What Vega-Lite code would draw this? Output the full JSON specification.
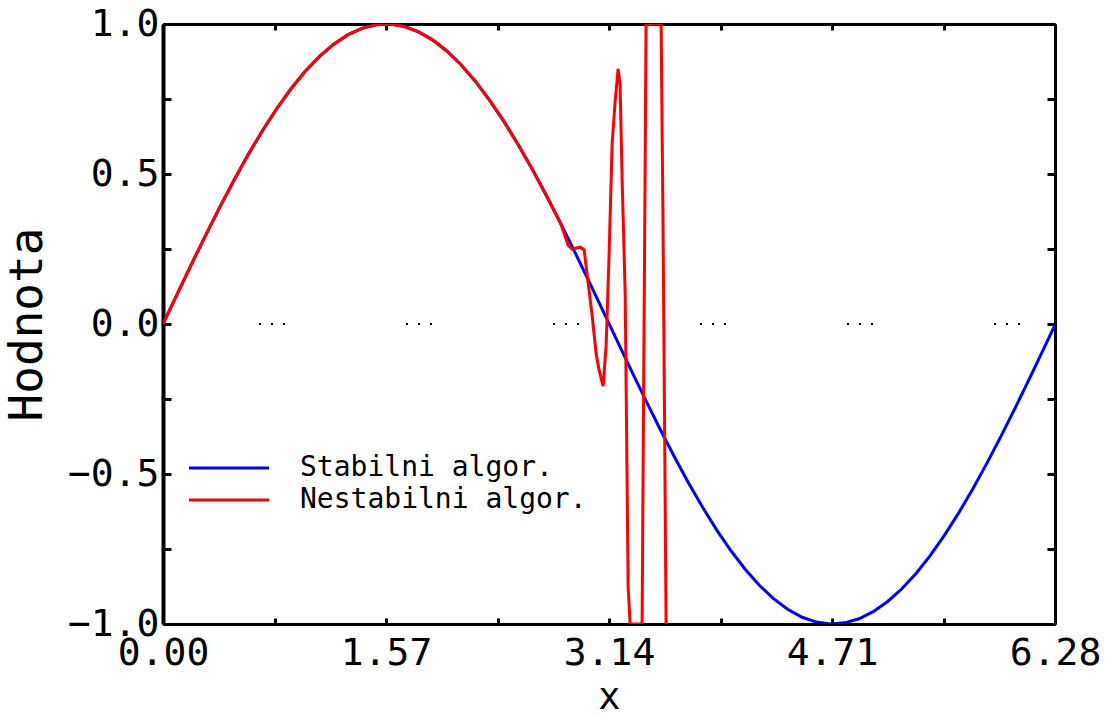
{
  "$schema": "https://vega.github.io/schema/vega-lite/v6.json",
  "width": 892,
  "height": 600,
  "autosize": {"type": "none"},
  "padding": {"left": 163, "top": 24, "right": 52, "bottom": 93},
  "background": "white",
  "config": {"view": {"stroke": null}, "font": "DejaVu Sans Mono"},
  "datasets": {
    "curves": [
      {"s": "Stabilni algor.", "x": 0, "y": 0},
      {"s": "Stabilni algor.", "x": 0.1, "y": 0.0998},
      {"s": "Stabilni algor.", "x": 0.2, "y": 0.1987},
      {"s": "Stabilni algor.", "x": 0.3, "y": 0.2955},
      {"s": "Stabilni algor.", "x": 0.4, "y": 0.3894},
      {"s": "Stabilni algor.", "x": 0.5, "y": 0.4794},
      {"s": "Stabilni algor.", "x": 0.6, "y": 0.5646},
      {"s": "Stabilni algor.", "x": 0.7, "y": 0.6442},
      {"s": "Stabilni algor.", "x": 0.8, "y": 0.7174},
      {"s": "Stabilni algor.", "x": 0.9, "y": 0.7833},
      {"s": "Stabilni algor.", "x": 1.0, "y": 0.8415},
      {"s": "Stabilni algor.", "x": 1.1, "y": 0.8912},
      {"s": "Stabilni algor.", "x": 1.2, "y": 0.932},
      {"s": "Stabilni algor.", "x": 1.3, "y": 0.9636},
      {"s": "Stabilni algor.", "x": 1.4, "y": 0.9854},
      {"s": "Stabilni algor.", "x": 1.5, "y": 0.9975},
      {"s": "Stabilni algor.", "x": 1.6, "y": 0.9996},
      {"s": "Stabilni algor.", "x": 1.7, "y": 0.9917},
      {"s": "Stabilni algor.", "x": 1.8, "y": 0.9738},
      {"s": "Stabilni algor.", "x": 1.9, "y": 0.9463},
      {"s": "Stabilni algor.", "x": 2.0, "y": 0.9093},
      {"s": "Stabilni algor.", "x": 2.1, "y": 0.8632},
      {"s": "Stabilni algor.", "x": 2.2, "y": 0.8085},
      {"s": "Stabilni algor.", "x": 2.3, "y": 0.7457},
      {"s": "Stabilni algor.", "x": 2.4, "y": 0.6755},
      {"s": "Stabilni algor.", "x": 2.5, "y": 0.5985},
      {"s": "Stabilni algor.", "x": 2.6, "y": 0.5155},
      {"s": "Stabilni algor.", "x": 2.7, "y": 0.4274},
      {"s": "Stabilni algor.", "x": 2.8, "y": 0.335},
      {"s": "Stabilni algor.", "x": 2.9, "y": 0.2392},
      {"s": "Stabilni algor.", "x": 3.0, "y": 0.1411},
      {"s": "Stabilni algor.", "x": 3.1, "y": 0.0416},
      {"s": "Stabilni algor.", "x": 3.2, "y": -0.0584},
      {"s": "Stabilni algor.", "x": 3.3, "y": -0.1577},
      {"s": "Stabilni algor.", "x": 3.4, "y": -0.2555},
      {"s": "Stabilni algor.", "x": 3.5, "y": -0.3508},
      {"s": "Stabilni algor.", "x": 3.6, "y": -0.4425},
      {"s": "Stabilni algor.", "x": 3.7, "y": -0.5298},
      {"s": "Stabilni algor.", "x": 3.8, "y": -0.6119},
      {"s": "Stabilni algor.", "x": 3.9, "y": -0.6878},
      {"s": "Stabilni algor.", "x": 4.0, "y": -0.7568},
      {"s": "Stabilni algor.", "x": 4.1, "y": -0.8183},
      {"s": "Stabilni algor.", "x": 4.2, "y": -0.8716},
      {"s": "Stabilni algor.", "x": 4.3, "y": -0.9162},
      {"s": "Stabilni algor.", "x": 4.4, "y": -0.9516},
      {"s": "Stabilni algor.", "x": 4.5, "y": -0.9775},
      {"s": "Stabilni algor.", "x": 4.6, "y": -0.9937},
      {"s": "Stabilni algor.", "x": 4.7, "y": -0.9999},
      {"s": "Stabilni algor.", "x": 4.8, "y": -0.9962},
      {"s": "Stabilni algor.", "x": 4.9, "y": -0.9825},
      {"s": "Stabilni algor.", "x": 5.0, "y": -0.9589},
      {"s": "Stabilni algor.", "x": 5.1, "y": -0.9258},
      {"s": "Stabilni algor.", "x": 5.2, "y": -0.8835},
      {"s": "Stabilni algor.", "x": 5.3, "y": -0.8323},
      {"s": "Stabilni algor.", "x": 5.4, "y": -0.7728},
      {"s": "Stabilni algor.", "x": 5.5, "y": -0.7055},
      {"s": "Stabilni algor.", "x": 5.6, "y": -0.6313},
      {"s": "Stabilni algor.", "x": 5.7, "y": -0.5507},
      {"s": "Stabilni algor.", "x": 5.8, "y": -0.4646},
      {"s": "Stabilni algor.", "x": 5.9, "y": -0.3739},
      {"s": "Stabilni algor.", "x": 6.0, "y": -0.2794},
      {"s": "Stabilni algor.", "x": 6.1, "y": -0.1822},
      {"s": "Stabilni algor.", "x": 6.2, "y": -0.0831},
      {"s": "Stabilni algor.", "x": 6.28, "y": -0.0032},
      {"s": "Nestabilni algor.", "x": 0, "y": 0},
      {"s": "Nestabilni algor.", "x": 0.1, "y": 0.0998},
      {"s": "Nestabilni algor.", "x": 0.2, "y": 0.1987},
      {"s": "Nestabilni algor.", "x": 0.3, "y": 0.2955},
      {"s": "Nestabilni algor.", "x": 0.4, "y": 0.3894},
      {"s": "Nestabilni algor.", "x": 0.5, "y": 0.4794},
      {"s": "Nestabilni algor.", "x": 0.6, "y": 0.5646},
      {"s": "Nestabilni algor.", "x": 0.7, "y": 0.6442},
      {"s": "Nestabilni algor.", "x": 0.8, "y": 0.7174},
      {"s": "Nestabilni algor.", "x": 0.9, "y": 0.7833},
      {"s": "Nestabilni algor.", "x": 1.0, "y": 0.8415},
      {"s": "Nestabilni algor.", "x": 1.1, "y": 0.8912},
      {"s": "Nestabilni algor.", "x": 1.2, "y": 0.932},
      {"s": "Nestabilni algor.", "x": 1.3, "y": 0.9636},
      {"s": "Nestabilni algor.", "x": 1.4, "y": 0.9854},
      {"s": "Nestabilni algor.", "x": 1.5, "y": 0.9975},
      {"s": "Nestabilni algor.", "x": 1.6, "y": 0.9996},
      {"s": "Nestabilni algor.", "x": 1.7, "y": 0.9917},
      {"s": "Nestabilni algor.", "x": 1.8, "y": 0.9738},
      {"s": "Nestabilni algor.", "x": 1.9, "y": 0.9463},
      {"s": "Nestabilni algor.", "x": 2.0, "y": 0.9093},
      {"s": "Nestabilni algor.", "x": 2.1, "y": 0.8632},
      {"s": "Nestabilni algor.", "x": 2.2, "y": 0.8085},
      {"s": "Nestabilni algor.", "x": 2.3, "y": 0.7457},
      {"s": "Nestabilni algor.", "x": 2.4, "y": 0.6755},
      {"s": "Nestabilni algor.", "x": 2.5, "y": 0.5985},
      {"s": "Nestabilni algor.", "x": 2.6, "y": 0.5155},
      {"s": "Nestabilni algor.", "x": 2.7, "y": 0.4274},
      {"s": "Nestabilni algor.", "x": 2.8, "y": 0.335},
      {"s": "Nestabilni algor.", "x": 2.852, "y": 0.263},
      {"s": "Nestabilni algor.", "x": 2.88, "y": 0.25},
      {"s": "Nestabilni algor.", "x": 2.937, "y": 0.256},
      {"s": "Nestabilni algor.", "x": 2.965, "y": 0.247},
      {"s": "Nestabilni algor.", "x": 2.993, "y": 0.137},
      {"s": "Nestabilni algor.", "x": 3.021, "y": 0.03},
      {"s": "Nestabilni algor.", "x": 3.049, "y": -0.097},
      {"s": "Nestabilni algor.", "x": 3.07, "y": -0.153},
      {"s": "Nestabilni algor.", "x": 3.099, "y": -0.207},
      {"s": "Nestabilni algor.", "x": 3.12, "y": -0.07},
      {"s": "Nestabilni algor.", "x": 3.141, "y": 0.237},
      {"s": "Nestabilni algor.", "x": 3.162, "y": 0.6},
      {"s": "Nestabilni algor.", "x": 3.183, "y": 0.74},
      {"s": "Nestabilni algor.", "x": 3.204, "y": 0.85},
      {"s": "Nestabilni algor.", "x": 3.218, "y": 0.8},
      {"s": "Nestabilni algor.", "x": 3.232, "y": 0.49},
      {"s": "Nestabilni algor.", "x": 3.254, "y": 0.1},
      {"s": "Nestabilni algor.", "x": 3.275, "y": -0.88},
      {"s": "Nestabilni algor.", "x": 3.289, "y": -1.0},
      {"s": "Nestabilni algor.", "x": 3.373, "y": -1.0},
      {"s": "Nestabilni algor.", "x": 3.401, "y": 1.0},
      {"s": "Nestabilni algor.", "x": 3.507, "y": 1.0},
      {"s": "Nestabilni algor.", "x": 3.521, "y": 0.3},
      {"s": "Nestabilni algor.", "x": 3.542, "y": -1.0}
    ],
    "zero": [{"x0": 0, "x1": 6.28, "y0": 0}]
  },
  "layer": [
    {
      "data": {"name": "curves"},
      "mark": {"type": "line", "strokeWidth": 3, "clip": true},
      "encoding": {
        "x": {
          "field": "x", "type": "quantitative",
          "scale": {"domain": [0, 6.28], "nice": false, "zero": false},
          "axis": {
            "orient": "bottom", "values": [0, 0.785, 1.57, 2.355, 3.14, 3.925, 4.71, 5.495, 6.28],
            "labelExpr": "abs(datum.value/1.57 - round(datum.value/1.57)) < 0.01 ? format(datum.value, '.2f') : ''",
            "grid": false, "tickSize": -6, "tickWidth": 3, "tickColor": "black",
            "domainWidth": 3, "domainColor": "black",
            "labelFont": "DejaVu Sans Mono", "labelFontSize": 38, "labelColor": "black",
            "labelPadding": 16, "labelFlush": false, "labelOverlap": false,
            "title": "x", "titleFont": "DejaVu Sans Mono", "titleFontSize": 37, "titleFontWeight": "normal",
            "titleColor": "black", "titlePadding": 7
          }
        },
        "y": {
          "field": "y", "type": "quantitative",
          "scale": {"domain": [-1, 1], "nice": false, "zero": false},
          "axis": {
            "orient": "left", "values": [-1, -0.75, -0.5, -0.25, 0, 0.25, 0.5, 0.75, 1],
            "labelExpr": "abs(datum.value*2 - round(datum.value*2)) < 0.01 ? format(datum.value, '.1f') : ''",
            "grid": false, "tickSize": -8, "tickWidth": 3, "tickColor": "black",
            "domainWidth": 4, "domainColor": "black",
            "labelFont": "DejaVu Sans Mono", "labelFontSize": 38, "labelColor": "black",
            "labelPadding": 12, "labelFlush": false, "labelOverlap": false,
            "title": "Hodnota", "titleFont": "DejaVu Sans Mono", "titleFontSize": 46, "titleFontWeight": "normal",
            "titleColor": "black", "titlePadding": 16
          }
        },
        "color": {
          "field": "s", "type": "nominal",
          "scale": {"domain": ["Stabilni algor.", "Nestabilni algor."], "range": ["#0000ff", "#ff0000"]},
          "legend": {
            "orient": "none", "legendX": 52, "legendY": 430, "title": null,
            "symbolType": "M-8,0H8", "symbolSize": 100, "symbolStrokeWidth": 3,
            "labelFont": "DejaVu Sans Mono", "labelFontSize": 28, "labelColor": "black",
            "labelOffset": 57, "labelLimit": 0, "rowPadding": 4
          }
        }
      }
    },
    {
      "data": {"name": "zero"},
      "mark": {"type": "rule", "strokeWidth": 2, "strokeDash": [2, 10, 2, 10, 2, 121], "strokeDashOffset": 51, "color": "black"},
      "encoding": {
        "x": {
          "field": "x0", "type": "quantitative",
          "axis": {
            "orient": "top", "values": [0, 0.785, 1.57, 2.355, 3.14, 3.925, 4.71, 5.495, 6.28],
            "labels": false, "grid": false, "tickSize": -6, "tickWidth": 3, "tickColor": "black",
            "domainWidth": 3, "domainColor": "black", "title": null
          }
        },
        "x2": {"field": "x1"},
        "y": {
          "field": "y0", "type": "quantitative",
          "axis": {
            "orient": "right", "values": [-1, -0.75, -0.5, -0.25, 0, 0.25, 0.5, 0.75, 1],
            "labels": false, "grid": false, "tickSize": -8, "tickWidth": 3, "tickColor": "black",
            "domainWidth": 3, "domainColor": "black", "title": null
          }
        }
      }
    }
  ],
  "resolve": {"axis": {"x": "independent", "y": "independent"}}
}
